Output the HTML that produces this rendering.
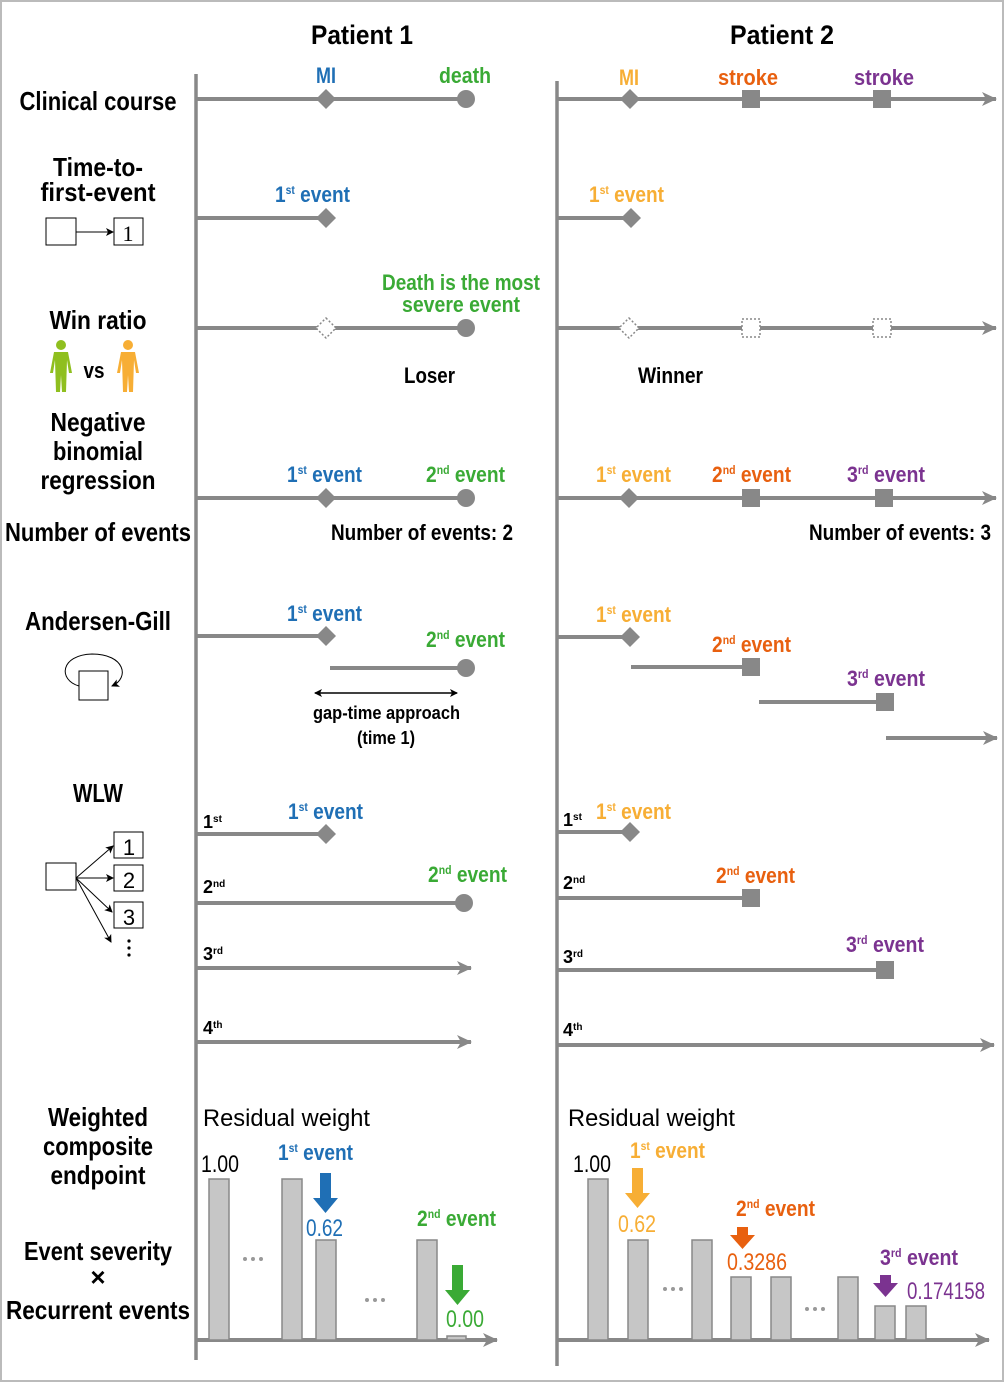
<!DOCTYPE html>
<html><head><meta charset="utf-8"><style>
html,body{margin:0;padding:0;background:#fff}
svg{display:block}
text{font-family:"Liberation Sans Narrow","Liberation Sans",sans-serif;font-weight:bold}
.r{font-weight:normal}
.b{fill:#1f6fb5}.g{fill:#3aaa35}.y{fill:#f7ae35}.o{fill:#e8600f}.p{fill:#7b3390}
</style></head><body>
<svg width="1004" height="1382" viewBox="0 0 1004 1382" xmlns="http://www.w3.org/2000/svg">
<defs>
<marker id="ak" markerWidth="8" markerHeight="8" refX="7" refY="4" orient="auto-start-reverse" markerUnits="userSpaceOnUse"><path d="M0,0 L8,4 L0,8 L2,4 Z" fill="#000"/></marker>
<marker id="ak2" markerWidth="8" markerHeight="8" refX="7" refY="4" orient="auto" markerUnits="userSpaceOnUse"><path d="M0,0 L8,4 L0,8 L2,4 Z" fill="#000"/></marker>
<marker id="ahb" markerWidth="16" markerHeight="16" refX="14" refY="8" orient="auto" markerUnits="userSpaceOnUse"><path d="M0,1 L15,8 L0,15 L4,8 Z" fill="#888"/></marker>
</defs>
<rect x="1" y="1" width="1002" height="1380" fill="none" stroke="#bbb" stroke-width="2"/>

<text x="362" y="44" font-size="27" text-anchor="middle" textLength="102" lengthAdjust="spacingAndGlyphs">Patient 1</text>
<text x="782" y="44" font-size="27" text-anchor="middle" textLength="104" lengthAdjust="spacingAndGlyphs">Patient 2</text>

<g font-size="26" text-anchor="middle">
<text x="98" y="110" textLength="157" lengthAdjust="spacingAndGlyphs">Clinical course</text>
<text x="98" y="176" textLength="90" lengthAdjust="spacingAndGlyphs">Time-to-</text>
<text x="98" y="201" textLength="115" lengthAdjust="spacingAndGlyphs">first-event</text>
<text x="98" y="329" textLength="97" lengthAdjust="spacingAndGlyphs">Win ratio</text>
<text x="94" y="378" font-size="22" textLength="21" lengthAdjust="spacingAndGlyphs">vs</text>
<text x="98" y="431" textLength="95" lengthAdjust="spacingAndGlyphs">Negative</text>
<text x="98" y="460" textLength="90" lengthAdjust="spacingAndGlyphs">binomial</text>
<text x="98" y="489" textLength="115" lengthAdjust="spacingAndGlyphs">regression</text>
<text x="98" y="541" textLength="186" lengthAdjust="spacingAndGlyphs">Number of events</text>
<text x="98" y="630" textLength="146" lengthAdjust="spacingAndGlyphs">Andersen-Gill</text>
<text x="98" y="802" textLength="50" lengthAdjust="spacingAndGlyphs">WLW</text>
<text x="98" y="1126" textLength="100" lengthAdjust="spacingAndGlyphs">Weighted</text>
<text x="98" y="1155" textLength="110" lengthAdjust="spacingAndGlyphs">composite</text>
<text x="98" y="1184" textLength="95" lengthAdjust="spacingAndGlyphs">endpoint</text>
<text x="98" y="1260" textLength="148" lengthAdjust="spacingAndGlyphs">Event severity</text>
<text x="98" y="1286" font-weight="normal">×</text>
<text x="98" y="1319" textLength="184" lengthAdjust="spacingAndGlyphs">Recurrent events</text>
</g>

<g stroke="#000" stroke-width="1" fill="#fff">
<rect x="46" y="218" width="30" height="27"/>
<rect x="114" y="218" width="29" height="27"/>
<line x1="76" y1="232" x2="113" y2="232" marker-end="url(#ak2)"/>
<rect x="79" y="671" width="29" height="29"/>
<path d="M79,686 C58,680 60,655 92,654 C125,654 130,678 112,686" fill="none" marker-end="url(#ak2)"/>
<rect x="46" y="863" width="30" height="27"/>
<rect x="114" y="832" width="29" height="26"/>
<rect x="114" y="865" width="29" height="26"/>
<rect x="114" y="902" width="29" height="26"/>
<line x1="76" y1="878" x2="113" y2="846" marker-end="url(#ak2)"/>
<line x1="76" y1="878" x2="113" y2="878" marker-end="url(#ak2)"/>
<line x1="76" y1="878" x2="112" y2="912" marker-end="url(#ak2)"/>
<line x1="76" y1="878" x2="111" y2="942" marker-end="url(#ak2)"/>
</g>
<g font-size="22" text-anchor="middle">
<text x="128" y="241" style="font-family:'Liberation Serif',serif;font-weight:normal">1</text>
<text x="129" y="855" style="font-family:'Liberation Sans',sans-serif;font-weight:normal">1</text>
<text x="129" y="888" style="font-family:'Liberation Sans',sans-serif;font-weight:normal">2</text>
<text x="129" y="925" style="font-family:'Liberation Sans',sans-serif;font-weight:normal">3</text>
</g>
<circle cx="129" cy="941" r="1.6"/><circle cx="129" cy="948" r="1.6"/><circle cx="129" cy="955" r="1.6"/>
<g fill="#8fbf1f"><circle cx="61" cy="345" r="5"/><path d="M54,352 H68 L72,373 L69,373 L67,360 L66,392 L62,392 L61,375 L60,392 L56,392 L55,360 L53,373 L50,373 Z"/></g>
<g fill="#f7ae35"><circle cx="128" cy="345" r="5"/><path d="M121,352 H135 L139,373 L136,373 L134,360 L133,392 L129,392 L128,375 L127,392 L123,392 L122,360 L120,373 L117,373 Z"/></g>

<g stroke="#888" stroke-width="3.5">
<line x1="196" y1="74" x2="196" y2="1360"/>
<line x1="557" y1="81" x2="557" y2="1366"/>
</g>

<g stroke="#888" stroke-width="4" fill="none">
<line x1="196" y1="99" x2="466" y2="99"/>
<line x1="557" y1="99" x2="996" y2="99" marker-end="url(#ahb)"/>
<line x1="196" y1="218" x2="326" y2="218"/>
<line x1="557" y1="218" x2="630" y2="218"/>
<line x1="196" y1="328" x2="466" y2="328"/>
<line x1="557" y1="328" x2="996" y2="328" marker-end="url(#ahb)"/>
<line x1="196" y1="498" x2="466" y2="498"/>
<line x1="557" y1="498" x2="996" y2="498" marker-end="url(#ahb)"/>
<line x1="196" y1="636" x2="326" y2="636"/>
<line x1="330" y1="668" x2="466" y2="668"/>
<line x1="557" y1="637" x2="630" y2="637"/>
<line x1="631" y1="667" x2="751" y2="667"/>
<line x1="759" y1="702" x2="884" y2="702"/>
<line x1="886" y1="738" x2="997" y2="738" marker-end="url(#ahb)"/>
<line x1="196" y1="834" x2="326" y2="834"/>
<line x1="196" y1="903" x2="464" y2="903"/>
<line x1="196" y1="968" x2="471" y2="968" marker-end="url(#ahb)"/>
<line x1="196" y1="1042" x2="471" y2="1042" marker-end="url(#ahb)"/>
<line x1="557" y1="832" x2="630" y2="832"/>
<line x1="557" y1="898" x2="751" y2="898"/>
<line x1="557" y1="970" x2="884" y2="970"/>
<line x1="557" y1="1045" x2="994" y2="1045" marker-end="url(#ahb)"/>
<line x1="196" y1="1340" x2="497" y2="1340" marker-end="url(#ahb)"/>
<line x1="557" y1="1340" x2="989" y2="1340" marker-end="url(#ahb)"/>
</g>
<line x1="315" y1="693" x2="457" y2="693" stroke="#000" stroke-width="1.5" marker-start="url(#ak)" marker-end="url(#ak)"/>

<g fill="#888">
<path d="M326,89 L336,99 L326,109 L316,99Z"/><circle cx="466" cy="99" r="9"/>
<path d="M630,89 L640,99 L630,109 L620,99Z"/><rect x="742" y="90" width="18" height="18"/><rect x="873" y="90" width="18" height="18"/>
<path d="M326,208 L336,218 L326,228 L316,218Z"/><path d="M631,208 L641,218 L631,228 L621,218Z"/>
<circle cx="466" cy="328" r="9"/>
<path d="M326,488 L336,498 L326,508 L316,498Z"/><circle cx="466" cy="498" r="9"/>
<path d="M629,488 L639,498 L629,508 L619,498Z"/><rect x="742" y="489" width="18" height="18"/><rect x="875" y="489" width="18" height="18"/>
<path d="M326,626 L336,636 L326,646 L316,636Z"/><circle cx="466" cy="668" r="9"/>
<path d="M630,627 L640,637 L630,647 L620,637Z"/><rect x="742" y="658" width="18" height="18"/><rect x="876" y="693" width="18" height="18"/>
<path d="M326,824 L336,834 L326,844 L316,834Z"/><circle cx="464" cy="903" r="9"/>
<path d="M630,822 L640,832 L630,842 L620,832Z"/><rect x="742" y="889" width="18" height="18"/><rect x="876" y="961" width="18" height="18"/>
</g>
<g fill="#fff" stroke="#888" stroke-width="1.5" stroke-dasharray="2,2">
<path d="M326,318 L336,328 L326,338 L316,328Z"/>
<path d="M629,318 L639,328 L629,338 L619,328Z"/>
<rect x="742" y="319" width="18" height="18"/><rect x="873" y="319" width="18" height="18"/>
</g>

<g font-size="22">
<text x="316" y="83" class="b" textLength="20" lengthAdjust="spacingAndGlyphs">MI</text>
<text x="439" y="83" class="g" textLength="52" lengthAdjust="spacingAndGlyphs">death</text>
<text x="619" y="85" class="y" textLength="20" lengthAdjust="spacingAndGlyphs">MI</text>
<text x="718" y="85" class="o" textLength="60" lengthAdjust="spacingAndGlyphs">stroke</text>
<text x="854" y="85" class="p" textLength="60" lengthAdjust="spacingAndGlyphs">stroke</text>

<text x="275" y="202" class="b" textLength="75" lengthAdjust="spacingAndGlyphs">1<tspan font-size="12" dy="-8">st</tspan><tspan dy="8"> event</tspan></text>
<text x="589" y="202" class="y" textLength="75" lengthAdjust="spacingAndGlyphs">1<tspan font-size="12" dy="-8">st</tspan><tspan dy="8"> event</tspan></text>

<text x="382" y="290" class="g" textLength="158" lengthAdjust="spacingAndGlyphs">Death is the most</text>
<text x="402" y="312" class="g" textLength="118" lengthAdjust="spacingAndGlyphs">severe event</text>
<text x="404" y="383" fill="#000" textLength="51" lengthAdjust="spacingAndGlyphs">Loser</text>
<text x="638" y="383" fill="#000" textLength="65" lengthAdjust="spacingAndGlyphs">Winner</text>

<text x="287" y="482" class="b" textLength="75" lengthAdjust="spacingAndGlyphs">1<tspan font-size="12" dy="-8">st</tspan><tspan dy="8"> event</tspan></text>
<text x="426" y="482" class="g" textLength="79" lengthAdjust="spacingAndGlyphs">2<tspan font-size="12" dy="-8">nd</tspan><tspan dy="8"> event</tspan></text>
<text x="596" y="482" class="y" textLength="75" lengthAdjust="spacingAndGlyphs">1<tspan font-size="12" dy="-8">st</tspan><tspan dy="8"> event</tspan></text>
<text x="712" y="482" class="o" textLength="79" lengthAdjust="spacingAndGlyphs">2<tspan font-size="12" dy="-8">nd</tspan><tspan dy="8"> event</tspan></text>
<text x="847" y="482" class="p" textLength="78" lengthAdjust="spacingAndGlyphs">3<tspan font-size="12" dy="-8">rd</tspan><tspan dy="8"> event</tspan></text>
<text x="331" y="540" fill="#000" textLength="182" lengthAdjust="spacingAndGlyphs">Number of events: 2</text>
<text x="809" y="540" fill="#000" textLength="182" lengthAdjust="spacingAndGlyphs">Number of events: 3</text>

<text x="287" y="621" class="b" textLength="75" lengthAdjust="spacingAndGlyphs">1<tspan font-size="12" dy="-8">st</tspan><tspan dy="8"> event</tspan></text>
<text x="426" y="647" class="g" textLength="79" lengthAdjust="spacingAndGlyphs">2<tspan font-size="12" dy="-8">nd</tspan><tspan dy="8"> event</tspan></text>
<text x="596" y="622" class="y" textLength="75" lengthAdjust="spacingAndGlyphs">1<tspan font-size="12" dy="-8">st</tspan><tspan dy="8"> event</tspan></text>
<text x="712" y="652" class="o" textLength="79" lengthAdjust="spacingAndGlyphs">2<tspan font-size="12" dy="-8">nd</tspan><tspan dy="8"> event</tspan></text>
<text x="847" y="686" class="p" textLength="78" lengthAdjust="spacingAndGlyphs">3<tspan font-size="12" dy="-8">rd</tspan><tspan dy="8"> event</tspan></text>

<text x="288" y="819" class="b" textLength="75" lengthAdjust="spacingAndGlyphs">1<tspan font-size="12" dy="-8">st</tspan><tspan dy="8"> event</tspan></text>
<text x="428" y="882" class="g" textLength="79" lengthAdjust="spacingAndGlyphs">2<tspan font-size="12" dy="-8">nd</tspan><tspan dy="8"> event</tspan></text>
<text x="596" y="819" class="y" textLength="75" lengthAdjust="spacingAndGlyphs">1<tspan font-size="12" dy="-8">st</tspan><tspan dy="8"> event</tspan></text>
<text x="716" y="883" class="o" textLength="79" lengthAdjust="spacingAndGlyphs">2<tspan font-size="12" dy="-8">nd</tspan><tspan dy="8"> event</tspan></text>
<text x="846" y="952" class="p" textLength="78" lengthAdjust="spacingAndGlyphs">3<tspan font-size="12" dy="-8">rd</tspan><tspan dy="8"> event</tspan></text>

<text x="278" y="1160" class="b" textLength="75" lengthAdjust="spacingAndGlyphs">1<tspan font-size="12" dy="-8">st</tspan><tspan dy="8"> event</tspan></text>
<text x="417" y="1226" class="g" textLength="79" lengthAdjust="spacingAndGlyphs">2<tspan font-size="12" dy="-8">nd</tspan><tspan dy="8"> event</tspan></text>
<text x="630" y="1158" class="y" textLength="75" lengthAdjust="spacingAndGlyphs">1<tspan font-size="12" dy="-8">st</tspan><tspan dy="8"> event</tspan></text>
<text x="736" y="1216" class="o" textLength="79" lengthAdjust="spacingAndGlyphs">2<tspan font-size="12" dy="-8">nd</tspan><tspan dy="8"> event</tspan></text>
<text x="880" y="1265" class="p" textLength="78" lengthAdjust="spacingAndGlyphs">3<tspan font-size="12" dy="-8">rd</tspan><tspan dy="8"> event</tspan></text>
</g>
<g font-size="18" fill="#000">
<text x="313" y="719" textLength="147" lengthAdjust="spacingAndGlyphs">gap-time approach</text>
<text x="357" y="744" textLength="58" lengthAdjust="spacingAndGlyphs">(time 1)</text>
<text x="203" y="828">1<tspan font-size="10" dy="-6">st</tspan></text>
<text x="203" y="893">2<tspan font-size="10" dy="-6">nd</tspan></text>
<text x="203" y="960">3<tspan font-size="10" dy="-6">rd</tspan></text>
<text x="203" y="1034">4<tspan font-size="10" dy="-6">th</tspan></text>
<text x="563" y="826">1<tspan font-size="10" dy="-6">st</tspan></text>
<text x="563" y="889">2<tspan font-size="10" dy="-6">nd</tspan></text>
<text x="563" y="963">3<tspan font-size="10" dy="-6">rd</tspan></text>
<text x="563" y="1036">4<tspan font-size="10" dy="-6">th</tspan></text>
</g>

<g fill="#c6c6c6" stroke="#888" stroke-width="1.5">
<rect x="209" y="1179" width="20" height="161"/>
<rect x="282" y="1179" width="20" height="161"/>
<rect x="316" y="1240" width="20" height="100"/>
<rect x="417" y="1240" width="20" height="100"/>
<rect x="447" y="1336" width="19" height="4"/>
<rect x="588" y="1179" width="20" height="161"/>
<rect x="628" y="1240" width="20" height="100"/>
<rect x="692" y="1240" width="20" height="100"/>
<rect x="731" y="1277" width="20" height="63"/>
<rect x="771" y="1277" width="20" height="63"/>
<rect x="838" y="1277" width="20" height="63"/>
<rect x="875" y="1306" width="20" height="34"/>
<rect x="906" y="1306" width="20" height="34"/>
</g>
<g fill="#999">
<circle cx="245" cy="1259" r="2"/><circle cx="253" cy="1259" r="2"/><circle cx="261" cy="1259" r="2"/>
<circle cx="367" cy="1300" r="2"/><circle cx="375" cy="1300" r="2"/><circle cx="383" cy="1300" r="2"/>
<circle cx="665" cy="1289" r="2"/><circle cx="673" cy="1289" r="2"/><circle cx="681" cy="1289" r="2"/>
<circle cx="807" cy="1309" r="2"/><circle cx="815" cy="1309" r="2"/><circle cx="823" cy="1309" r="2"/>
</g>
<path d="M320,1173 H331 V1198 H338 L325.5,1213 L313,1198 H320 Z" fill="#1f6fb5"/>
<path d="M452,1265 H463 V1290 H470 L457.5,1305 L445,1290 H452 Z" fill="#3aaa35"/>
<path d="M632,1168 H643 V1193 H650 L637.5,1208 L625,1193 H632 Z" fill="#f7ae35"/>
<path d="M737,1227 H748 V1235 H755 L742.5,1249 L730,1235 H737 Z" fill="#e8600f"/>
<path d="M880,1275 H891 V1283 H898 L885.5,1297 L873,1283 H880 Z" fill="#7b3390"/>

<g font-size="24">
<text x="203" y="1126" class="r" fill="#000" textLength="167" lengthAdjust="spacingAndGlyphs">Residual weight</text>
<text x="568" y="1126" class="r" fill="#000" textLength="167" lengthAdjust="spacingAndGlyphs">Residual weight</text>
<text x="201" y="1172" class="r" fill="#000" textLength="38" lengthAdjust="spacingAndGlyphs">1.00</text>
<text x="573" y="1172" class="r" fill="#000" textLength="38" lengthAdjust="spacingAndGlyphs">1.00</text>
<text x="306" y="1236" class="r b" textLength="37" lengthAdjust="spacingAndGlyphs">0.62</text>
<text x="446" y="1327" class="r g" textLength="38" lengthAdjust="spacingAndGlyphs">0.00</text>
<text x="618" y="1232" class="r y" textLength="38" lengthAdjust="spacingAndGlyphs">0.62</text>
<text x="727" y="1270" class="r o" textLength="60" lengthAdjust="spacingAndGlyphs">0.3286</text>
<text x="907" y="1299" class="r p" textLength="78" lengthAdjust="spacingAndGlyphs">0.174158</text>
</g>
</svg>
</body></html>
